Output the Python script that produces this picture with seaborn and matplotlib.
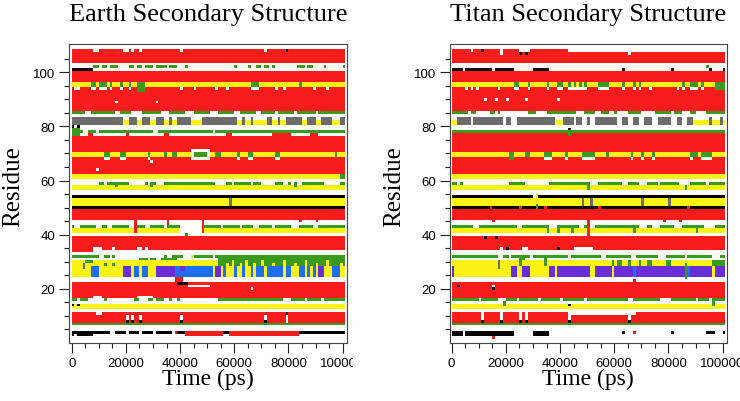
import numpy as np
import pandas as pd
import matplotlib
matplotlib.use('Agg')
import matplotlib.pyplot as plt
from matplotlib.colors import ListedColormap
from matplotlib.ticker import FixedLocator
from matplotlib.transforms import Bbox, TransformedBbox
import seaborn as sns

plt.rcParams['font.family'] = ['Liberation Sans', 'DejaVu Sans']

# DSSP states: coil, sheet, bridge, bend, turn, 3-helix, a-helix, 5-helix
states = ['-', 'E', 'B', 'S', 'T', 'G', 'H', 'I']
state_colors = ['#ffffff', '#f81c1c', '#000000', '#3a9a1e', '#fbf314',
                '#6c6c6c', '#1e6ef5', '#6a2ed8']

residues = np.arange(1, 111)
frames = np.arange(0, 101)          # one frame every 1000 ps
xtick_ps = [0, 20000, 40000, 60000, 80000, 100000]
ytick_res = [20, 40, 60, 80, 100]

# base state per residue range (first, last, state), rest is coil
earth_bands = [
    (104, 108, 'E'), (97, 100, 'E'), (95, 96, 'T'), (86, 94, 'E'),
    (81, 83, 'G'), (78, 78, 'S'), (63, 76, 'E'), (69, 70, 'T'),
    (61, 62, 'T'), (57, 58, 'T'), (54, 54, 'B'), (51, 53, 'T'),
    (50, 50, 'B'), (46, 49, 'E'), (43, 43, 'S'), (41, 42, 'T'),
    (35, 39, 'E'), (25, 30, 'T'), (17, 22, 'E'), (13, 14, 'T'),
    (8, 11, 'E'), (7, 7, 'S'), (4, 4, 'B'),
]
titan_bands = [
    (104, 108, 'E'), (97, 100, 'E'), (95, 96, 'T'), (86, 94, 'E'),
    (81, 83, 'G'), (78, 78, 'S'), (63, 77, 'E'), (69, 70, 'T'),
    (61, 62, 'T'), (57, 58, 'T'), (54, 54, 'B'), (51, 53, 'T'),
    (50, 50, 'B'), (46, 49, 'E'), (43, 43, 'S'), (41, 42, 'T'),
    (35, 39, 'E'), (25, 30, 'T'), (17, 22, 'E'), (13, 14, 'T'),
    (8, 11, 'E'), (7, 7, 'S'),
]

# changes over time: (first res, last res, state, [(first ns, last ns), ...])
earth_marks = [
    (108, 108, '-', [(8, 9), (19, 20), (22, 22), (25, 25), (40, 40), (71, 71)]),
    (108, 108, 'B', [(79, 79)]),
    (102, 102, 'S', [(8, 9), (11, 12), (14, 15), (16, 16), (21, 22), (24, 25), (27, 29),
                     (31, 34), (36, 38), (42, 42), (60, 60), (65, 65), (68, 69), (71, 72),
                     (74, 74), (83, 85), (87, 88), (93, 93), (100, 100)]),
    (101, 101, 'B', [(0, 2), (3, 7)]),
    (94, 94, '-', [(1, 2), (7, 8), (10, 12), (14, 14), (18, 18), (21, 21), (40, 40),
                   (45, 45), (53, 53), (57, 57), (66, 68), (75, 75), (78, 78), (89, 89),
                   (94, 94)]),
    (95, 96, 'S', [(7, 8), (10, 12), (14, 14), (18, 18), (21, 21), (66, 68), (84, 84)]),
    (93, 96, 'S', [(24, 26)]),
    (89, 89, '-', [(16, 16), (31, 31)]),
    (85, 85, 'S', [(0, 4), (7, 15), (18, 21), (26, 32), (36, 41), (45, 50), (54, 59),
                   (62, 67), (70, 74), (76, 81), (83, 89), (91, 100)]),
    (81, 82, 'T', [(19, 20), (24, 25), (29, 30), (34, 35), (37, 38), (44, 47), (61, 62),
                   (64, 65), (67, 68), (69, 71), (74, 75), (77, 78), (85, 86), (90, 91),
                   (96, 98)]),
    (83, 83, '-', [(19, 20), (24, 25), (29, 30), (34, 35), (37, 38), (44, 47), (61, 62),
                   (64, 65), (67, 68), (69, 71), (74, 75), (77, 78), (85, 86), (90, 91),
                   (96, 98)]),
    (80, 80, 'B', [(0, 0), (2, 2)]),
    (77, 79, 'S', [(0, 2)]),
    (78, 78, '-', [(4, 5), (9, 9), (30, 31), (52, 52)]),
    (77, 77, 'E', [(6, 7), (20, 20), (34, 35), (57, 58), (74, 80), (88, 90)]),
    (68, 71, '-', [(44, 50)]),
    (69, 70, 'S', [(12, 13), (18, 19), (28, 28), (34, 34), (37, 38), (45, 49), (53, 54),
                   (61, 61), (65, 66), (75, 76), (97, 97)]),
    (68, 68, '-', [(12, 13), (18, 19), (28, 28), (61, 61), (65, 66), (75, 76)]),
    (67, 67, '-', [(29, 29)]),
    (64, 64, '-', [(9, 9)]),
    (61, 62, 'S', [(99, 100)]),
    (59, 59, 'S', [(10, 11), (13, 14), (15, 20), (27, 27), (29, 30), (34, 42), (43, 52),
                   (57, 58), (60, 62), (63, 65), (67, 69), (75, 77), (80, 80), (82, 82),
                   (85, 92), (99, 100)]),
    (58, 58, 'S', [(16, 16), (29, 29), (82, 82)]),
    (51, 53, 'G', [(58, 58)]),
    (43, 43, '-', [(1, 2), (9, 10), (13, 14), (21, 22), (27, 28), (34, 34), (55, 55),
                   (62, 62), (67, 68), (74, 74), (81, 83), (89, 90)]),
    (41, 43, '-', [(40, 47)]),
    (40, 40, 'S', [(42, 42)]),
    (41, 45, 'E', [(23, 23), (48, 48)]),
    (44, 45, 'E', [(35, 35)]),
    (45, 45, 'E', [(84, 84), (90, 90)]),
    (35, 35, '-', [(8, 8), (9, 10), (15, 15), (24, 25), (27, 27)]),
    (34, 34, 'E', [(0, 7)]),
    (32, 32, 'S', [(0, 7), (8, 9), (12, 13), (15, 15), (34, 34), (37, 40), (45, 51),
                   (53, 100)]),
    (32, 32, 'T', [(44, 44)]),
    (31, 31, 'S', [(25, 27), (29, 30), (33, 38)]),
    (30, 30, 'S', [(5, 7)]),
    (30, 31, 'S', [(54, 100)]),
    (29, 29, 'S', [(54, 56), (58, 58), (60, 61), (63, 63), (65, 66), (68, 69), (71, 73),
                   (75, 77), (79, 81), (83, 85), (87, 89), (91, 93), (95, 98), (100, 100)]),
    (30, 30, 'T', [(59, 59), (64, 64), (70, 70), (78, 78), (86, 86), (94, 94)]),
    (28, 29, 'G', [(4, 4)]),
    (29, 29, 'S', [(12, 12), (15, 15)]),
    (25, 28, 'H', [(7, 9), (23, 24), (26, 27), (38, 51), (56, 56), (60, 60), (63, 63),
                   (66, 66), (68, 70), (72, 75), (76, 77), (79, 80), (84, 85), (87, 87),
                   (89, 89), (96, 98)]),
    (25, 28, 'I', [(19, 21), (31, 37), (53, 54), (91, 92)]),
    (27, 28, 'I', [(40, 41)]),
    (23, 24, 'E', [(38, 40)]),
    (22, 22, 'B', [(39, 42)]),
    (21, 21, '-', [(43, 50)]),
    (20, 20, '-', [(66, 66)]),
    (17, 17, '-', [(8, 10), (24, 29)]),
    (16, 16, 'S', [(0, 1), (3, 5), (12, 12), (23, 24), (28, 29), (31, 33), (36, 36),
                   (39, 39), (54, 57), (58, 61), (62, 67), (68, 73), (74, 77), (81, 85),
                   (87, 91), (93, 95), (96, 100)]),
    (14, 14, 'B', [(0, 0), (2, 2)]),
    (11, 11, '-', [(9, 10)]),
    (9, 10, '-', [(20, 20), (22, 22), (25, 25), (40, 40), (71, 71)]),
    (8, 8, 'B', [(20, 20), (22, 22), (25, 25), (40, 40), (71, 71)]),
    (8, 10, '-', [(79, 79)]),
    (11, 11, 'B', [(79, 79)]),
    (4, 4, '-', [(14, 15), (20, 20), (25, 25), (30, 30), (37, 37)]),
    (3, 3, 'B', [(0, 0), (2, 7)]),
    (4, 4, 'E', [(38, 38)]),
    (3, 4, 'E', [(42, 55), (58, 83)]),
]

titan_marks = [
    (108, 108, '-', [(7, 7), (18, 18), (25, 28), (43, 100)]),
    (108, 108, 'B', [(11, 11)]),
    (107, 107, 'B', [(25, 25), (27, 27)]),
    (107, 107, '-', [(18, 18), (65, 65)]),
    (102, 102, 'S', [(94, 94)]),
    (101, 101, 'B', [(0, 3), (5, 14), (16, 22), (30, 35), (63, 63), (81, 81), (95, 95),
                     (100, 100)]),
    (94, 94, '-', [(5, 5), (7, 7), (9, 9), (17, 17), (23, 24), (28, 28), (35, 35),
                   (39, 40), (43, 49), (54, 57), (63, 63), (67, 67), (69, 69), (73, 73),
                   (83, 83), (85, 85), (88, 90), (92, 92)]),
    (95, 96, 'S', [(23, 24), (28, 28), (35, 35), (39, 40), (43, 43), (45, 45), (47, 47),
                   (49, 49), (54, 57), (63, 63), (67, 67), (69, 69), (85, 85), (88, 90),
                   (92, 92)]),
    (94, 96, 'S', [(97, 100)]),
    (90, 90, '-', [(12, 12), (16, 16), (20, 20), (27, 27), (39, 39)]),
    (85, 85, 'S', [(0, 5), (7, 8), (14, 15), (17, 17), (28, 30), (35, 45), (49, 52),
                   (55, 57), (60, 60), (65, 69), (75, 80), (82, 84), (88, 89), (94, 100)]),
    (81, 82, 'T', [(0, 1), (38, 40), (89, 94), (96, 98), (100, 100)]),
    (83, 83, '-', [(0, 1), (38, 40), (89, 94), (96, 98), (100, 100)]),
    (81, 83, '-', [(7, 7), (19, 19), (22, 23), (45, 45), (48, 49), (51, 52), (61, 62),
                   (65, 66), (69, 70), (74, 75), (81, 82), (85, 86)]),
    (79, 79, 'B', [(43, 43)]),
    (77, 78, 'S', [(43, 43)]),
    (68, 70, 'S', [(21, 22)]),
    (69, 70, 'S', [(27, 28), (34, 35), (36, 36), (42, 42), (48, 51), (52, 52), (57, 57),
                   (66, 66), (70, 70), (74, 74), (88, 90), (92, 95)]),
    (68, 68, '-', [(34, 36), (42, 42), (48, 52), (66, 66), (70, 70), (74, 74), (88, 88),
                   (92, 95)]),
    (59, 59, 'S', [(0, 1), (3, 3), (21, 23), (24, 26), (36, 39), (40, 46), (47, 50),
                   (54, 62), (65, 68), (72, 75), (77, 83), (88, 93), (95, 100)]),
    (57, 58, 'S', [(50, 50), (86, 86)]),
    (54, 54, '-', [(30, 31)]),
    (54, 55, 'T', [(31, 31)]),
    (51, 53, 'G', [(48, 48), (51, 51), (70, 70), (80, 80)]),
    (50, 51, 'S', [(31, 31)]),
    (50, 50, 'E', [(14, 14), (25, 25), (34, 34), (54, 54), (87, 87)]),
    (43, 43, '-', [(8, 9), (24, 25), (36, 38), (47, 48), (50, 52), (69, 71), (74, 76),
                   (82, 84), (93, 96)]),
    (41, 42, 'S', [(35, 35), (39, 39), (44, 44), (67, 67), (90, 90)]),
    (45, 45, 'E', [(15, 15), (78, 78), (84, 84)]),
    (40, 45, 'E', [(50, 50)]),
    (39, 39, 'B', [(12, 12), (16, 16)]),
    (35, 35, '-', [(18, 18), (26, 27), (45, 51)]),
    (35, 35, 'B', [(20, 20), (39, 39)]),
    (32, 32, 'S', [(0, 12), (13, 16), (19, 20), (22, 28), (30, 42), (44, 45), (46, 50),
                   (51, 54), (57, 62), (63, 65), (68, 72), (73, 75), (79, 85), (87, 95),
                   (99, 100)]),
    (31, 31, 'S', [(25, 26), (34, 34)]),
    (28, 30, 'G', [(17, 17)]),
    (29, 30, 'S', [(25, 25), (34, 34), (59, 59), (61, 62), (65, 65), (69, 69), (72, 73),
                   (79, 80), (96, 100)]),
    (25, 28, 'I', [(0, 0), (22, 23), (26, 28), (36, 37), (39, 50), (53, 58), (60, 66),
                   (68, 95), (97, 100)]),
    (25, 28, 'H', [(67, 67), (87, 87)]),
    (24, 29, 'S', [(86, 86)]),
    (23, 23, 'E', [(67, 67)]),
    (21, 21, 'B', [(2, 2)]),
    (20, 21, '-', [(15, 15)]),
    (20, 20, 'B', [(15, 15)]),
    (16, 16, 'S', [(0, 9), (11, 16), (20, 23), (25, 31), (33, 39), (41, 44), (45, 48),
                   (50, 64), (67, 73), (74, 76), (81, 89), (91, 94), (96, 100)]),
    (14, 15, 'S', [(19, 19), (96, 96)]),
    (14, 14, 'B', [(43, 43)]),
    (11, 11, '-', [(43, 67)]),
    (8, 11, '-', [(11, 11), (18, 18), (25, 25), (27, 27), (43, 43), (65, 65)]),
    (8, 8, 'B', [(11, 11), (18, 18), (25, 25), (27, 27), (43, 43), (65, 65)]),
    (3, 4, 'B', [(0, 3), (5, 22), (30, 35)]),
    (4, 4, 'B', [(63, 63), (81, 81), (94, 96), (100, 100)]),
    (2, 2, 'E', [(15, 15)]),
    (4, 4, 'E', [(67, 67)]),
]


def build_map(bands, marks):
    grid = np.zeros((len(residues), len(frames)), dtype=int)
    for r0, r1, s in bands:
        grid[r0 - 1:r1, :] = states.index(s)
    for r0, r1, s, segs in marks:
        for t0, t1 in segs:
            grid[r0 - 1:r1, t0:t1 + 1] = states.index(s)
    return pd.DataFrame(grid, index=residues, columns=frames * 1000)


def draw_panel(ax, data, title, xlim, clip_right=None):
    cmap = ListedColormap(state_colors)
    sns.heatmap(data, ax=ax, cmap=cmap, vmin=-0.5, vmax=len(states) - 0.5,
                cbar=False, xticklabels=False, yticklabels=False,
                rasterized=True)
    # heatmap cell j covers [j, j+1]: frame t (ns) starts at x = t, residue r centred at r-0.5
    ax.set_xlim(xlim)
    ax.set_ylim(-0.5, 109.9)
    ax.set_xticks([t / 1000 for t in xtick_ps])
    ax.set_xticklabels([str(t) for t in xtick_ps])
    ax.xaxis.set_minor_locator(FixedLocator(np.arange(0, 101, 5)))
    ax.set_yticks([r - 0.5 for r in ytick_res])
    ax.set_yticklabels([str(r) for r in ytick_res], rotation=0)
    ax.yaxis.set_minor_locator(FixedLocator(np.arange(5, 110, 5) - 0.5))
    ax.tick_params(which='both', direction='out', top=False, right=False,
                   width=0.8, labelsize=9.5, pad=3, color='#222222')
    ax.tick_params(which='major', length=7)
    ax.tick_params(which='minor', length=3.5)
    plt.setp(ax.get_xticklabels(), rotation=0)
    for sp in ax.spines.values():
        sp.set_visible(True)
        sp.set_color('#444444')
        sp.set_linewidth(0.8)

    ax.set_title(title, family='Liberation Serif', fontsize=19, pad=17)
    ax.set_xlabel('Time (ps)', family='Liberation Serif', fontsize=17)
    ax.set_ylabel('Residue', family='Liberation Serif', fontsize=18)
    ax.xaxis.set_label_coords(0.5, -0.082)
    ax.yaxis.set_label_coords(-0.162, 0.526)

    if clip_right is not None:
        lab = ax.xaxis.get_major_ticks()[-1].label1
        lab.set_clip_box(TransformedBbox(Bbox([[0, 0], [clip_right, 1]]),
                                         ax.figure.transFigure))
        lab.set_clip_on(True)


fig = plt.figure(figsize=(7.4, 4.02), dpi=100)
ax1 = fig.add_axes([69.3 / 740, 58 / 402, 277.4 / 740, 299 / 402])
ax2 = fig.add_axes([450 / 740, 58 / 402, 276.7 / 740, 299 / 402])

earth = build_map(earth_bands, earth_marks)
titan = build_map(titan_bands, titan_marks)

draw_panel(ax1, earth, 'Earth Secondary Structure', (-0.89, 101.5), clip_right=353 / 740)
draw_panel(ax2, titan, 'Titan Secondary Structure', (-0.62, 101.5))

fig.savefig('out.png', dpi=100)
